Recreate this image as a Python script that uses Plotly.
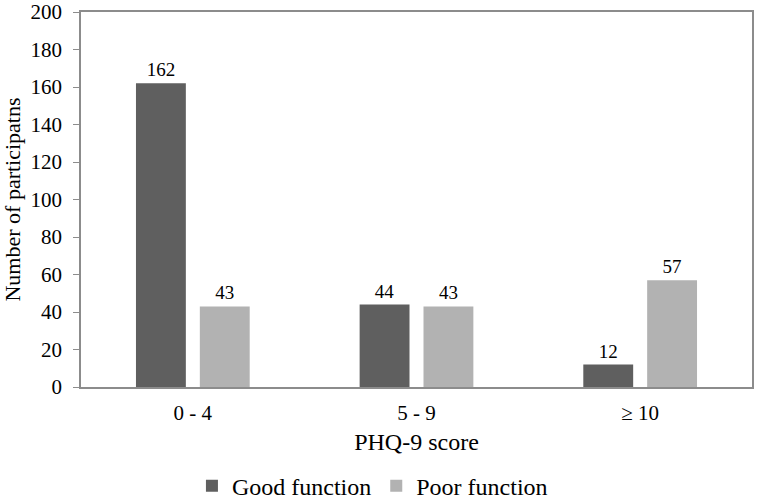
import plotly.graph_objects as go

categories = ["0 - 4", "5 - 9", "≥ 10"]
good_function = [162, 44, 12]
poor_function = [43, 43, 57]
y_ticks = [0, 20, 40, 60, 80, 100, 120, 140, 160, 180, 200]

font_family = "Times New Roman, Liberation Serif, serif"

fig = go.Figure()
fig.add_trace(go.Bar(
    name="Good function", x=categories, y=good_function,
    marker=dict(color="#5f5f5f", line=dict(width=0)),
    text=[str(v) for v in good_function], textposition="outside",
    textfont=dict(size=19, color="black", family=font_family),
    cliponaxis=False,
))
fig.add_trace(go.Bar(
    name="Poor function", x=categories, y=poor_function,
    marker=dict(color="#b2b2b2", line=dict(width=0)),
    text=[str(v) for v in poor_function], textposition="outside",
    textfont=dict(size=19, color="black", family=font_family),
    cliponaxis=False,
))

fig.update_layout(
    width=757, height=499,
    margin=dict(l=81, r=5, t=12, b=112, autoexpand=False),
    paper_bgcolor="white", plot_bgcolor="white",
    font=dict(family=font_family, color="black", size=21),
    barmode="group", bargap=0.429, bargroupgap=0.219,
    showlegend=True,
    legend=dict(
        orientation="h", xref="container", x=0.492, xanchor="center",
        yref="container", y=0.026, yanchor="middle",
        font=dict(size=24, family=font_family), itemwidth=30, traceorder="normal",
    ),
)
fig.update_xaxes(
    automargin=False,
    showline=True, linecolor="#8c8c8c", linewidth=1.5, mirror=True,
    ticks="outside", ticklen=6, tickcolor="rgba(0,0,0,0)",
    tickfont=dict(size=21, family=font_family),
    title=dict(text="PHQ-9 score", font=dict(size=24, family=font_family), standoff=9),
    showgrid=False,
)
fig.update_yaxes(
    automargin=False,
    range=[0, 200], tickvals=y_ticks,
    showline=True, linecolor="#8c8c8c", linewidth=1.5, mirror=True,
    ticks="outside", ticklen=6, tickcolor="#8c8c8c",
    ticklabelstandoff=7,
    tickfont=dict(size=21, family=font_family),
    title=dict(text="Number of participatns", font=dict(size=22, family=font_family), standoff=9),
    showgrid=False, zeroline=False,
)

fig.write_html("out.html")
